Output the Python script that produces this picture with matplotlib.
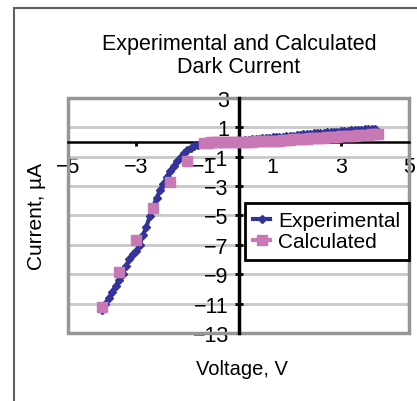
import matplotlib
matplotlib.use("Agg")
import matplotlib.pyplot as plt
from matplotlib.patches import Rectangle
from matplotlib.lines import Line2D

plt.rcParams['font.family'] = ['Liberation Sans', 'DejaVu Sans']

# experimental dark current (V, uA)
exp_v = [-4.0, -3.9, -3.8, -3.7, -3.6, -3.5, -3.4, -3.3, -3.2, -3.1,
         -3.0, -2.9, -2.8, -2.7, -2.6, -2.5, -2.4, -2.3, -2.2, -2.1,
         -2.0, -1.9, -1.8, -1.7, -1.6, -1.5, -1.4, -1.3, -1.2, -1.1,
         -1.0, -0.9, -0.8, -0.7, -0.6, -0.5, -0.4, -0.3, -0.2, -0.1,
         0.0, 0.1, 0.2, 0.3, 0.4, 0.5, 0.6, 0.7, 0.8, 0.9,
         1.0, 1.1, 1.2, 1.3, 1.4, 1.5, 1.6, 1.7, 1.8, 1.9,
         2.0, 2.1, 2.2, 2.3, 2.4, 2.5, 2.6, 2.7, 2.8, 2.9,
         3.0, 3.1, 3.2, 3.3, 3.4, 3.5, 3.6, 3.7, 3.8, 3.9, 4.0]
exp_i = [-11.45, -11.0, -10.6, -10.2, -9.8, -9.4, -8.95, -8.45, -7.95, -7.65,
         -7.4, -7.0, -6.35, -5.75, -5.05, -4.4, -3.8, -3.3, -2.85, -2.35,
         -1.95, -1.6, -1.3, -1.0, -0.75, -0.55, -0.4, -0.28, -0.18, -0.12,
         -0.08, -0.05, -0.04, -0.03, -0.02, -0.02, -0.01, -0.01, 0.0, 0.0,
         0.02, 0.08, 0.12, 0.15, 0.17, 0.19, 0.21, 0.24, 0.26, 0.28,
         0.31, 0.33, 0.35, 0.37, 0.39, 0.42, 0.44, 0.47, 0.5, 0.52,
         0.54, 0.56, 0.58, 0.6, 0.62, 0.64, 0.66, 0.68, 0.7, 0.71,
         0.73, 0.75, 0.77, 0.79, 0.8, 0.82, 0.84, 0.86, 0.87, 0.89, 0.9]

# calculated dark current (V, uA)
calc_v = [-4.0, -3.5, -3.0, -2.5, -2.0, -1.5,
          -1.0, -0.9, -0.8, -0.7, -0.6, -0.5, -0.4, -0.3, -0.2, -0.1,
          0.0, 0.1, 0.2, 0.3, 0.4, 0.5, 0.6, 0.7, 0.8, 0.9,
          1.0, 1.1, 1.2, 1.3, 1.4, 1.5, 1.6, 1.7, 1.8, 1.9,
          2.0, 2.1, 2.2, 2.3, 2.4, 2.5, 2.6, 2.7, 2.8, 2.9,
          3.0, 3.1, 3.2, 3.3, 3.4, 3.5, 3.6, 3.7, 3.8, 3.9, 4.0, 4.1]
calc_i = [-11.2, -8.85, -6.65, -4.5, -2.75, -1.3,
          -0.05, -0.04, -0.03, -0.02, -0.02, -0.01, -0.01, 0.0, 0.0, 0.0,
          0.0, 0.01, 0.02, 0.02, 0.03, 0.04, 0.05, 0.05, 0.06, 0.07,
          0.08, 0.09, 0.1, 0.11, 0.12, 0.15, 0.18, 0.19, 0.2, 0.21,
          0.22, 0.24, 0.25, 0.27, 0.28, 0.3, 0.31, 0.33, 0.34, 0.36,
          0.38, 0.39, 0.41, 0.42, 0.44, 0.46, 0.47, 0.49, 0.5, 0.52, 0.53, 0.55]

x_ticks = [-5, -3, -1, 1, 3, 5]
y_ticks = [3, 1, -1, -3, -5, -7, -9, -11, -13]

exp_color = '#333399'
calc_color = '#c878b4'

fig = plt.figure(figsize=(4.17, 4.02), dpi=100)
ax = fig.add_axes([0.163, 0.169, 0.818, 0.585])

ax.plot(exp_v, exp_i, color=exp_color, marker='D', markersize=4.5, lw=3,
        zorder=3)
ax.plot(calc_v, calc_i, color=calc_color, marker='s', markersize=6.5,
        linestyle='none', zorder=4)

ax.set_xlim(-5, 5)
ax.set_ylim(-13, 3)
ax.set_xticks(x_ticks)
ax.set_yticks(y_ticks)
ax.yaxis.grid(True, color='#c8c8c8', lw=2)
ax.set_axisbelow(True)

ax.spines['left'].set_position(('data', 0))
ax.spines['bottom'].set_position(('data', 0))
ax.spines['left'].set_linewidth(2.5)
ax.spines['bottom'].set_linewidth(1.8)
ax.spines['right'].set_visible(False)
ax.spines['top'].set_visible(False)
ax.add_patch(Rectangle((0, 0), 1, 1, transform=ax.transAxes, fill=False,
                       edgecolor='#969696', lw=2.5, clip_on=False, zorder=1))

ax.tick_params(axis='y', direction='inout', length=6, width=2, pad=4,
               labelsize=15.5, colors='black')
ax.tick_params(axis='x', direction='out', length=3, width=2, pad=7,
               labelsize=15.5, colors='black')

handles = [Line2D([], [], color=exp_color, marker='D', markersize=4.5, lw=3),
           Line2D([], [], color=calc_color, marker='s', markersize=6.5, lw=3)]
leg = ax.legend(handles, ['Experimental', 'Calculated'], loc='upper left',
                bbox_to_anchor=(0.519, 0.553), borderaxespad=0, fancybox=False,
                fontsize=15, handlelength=0.8, handletextpad=0.4,
                labelspacing=0.1, borderpad=0.4, framealpha=1)
leg.get_frame().set_edgecolor('black')
leg.get_frame().set_linewidth(2)

fig.text(239 / 417, 1 - 56 / 402, 'Experimental and Calculated\nDark Current',
         ha='center', va='center', fontsize=15.5, linespacing=1.15)
fig.text(242 / 417, 1 - 370 / 402, 'Voltage, V', ha='center', va='center',
         fontsize=14.5)
fig.text(37 / 417, 1 - 217 / 402, 'Current, µA', ha='center', va='center',
         rotation=90, fontsize=15)

# outer chart border (only left and top edges visible in the crop)
fig.patches.append(Rectangle((14 / 417, -0.1), 1.2, 1 - 9 / 402 + 0.1,
                             transform=fig.transFigure, fill=False,
                             edgecolor='#606060', lw=1.5))

fig.savefig('out.png', dpi=100)
